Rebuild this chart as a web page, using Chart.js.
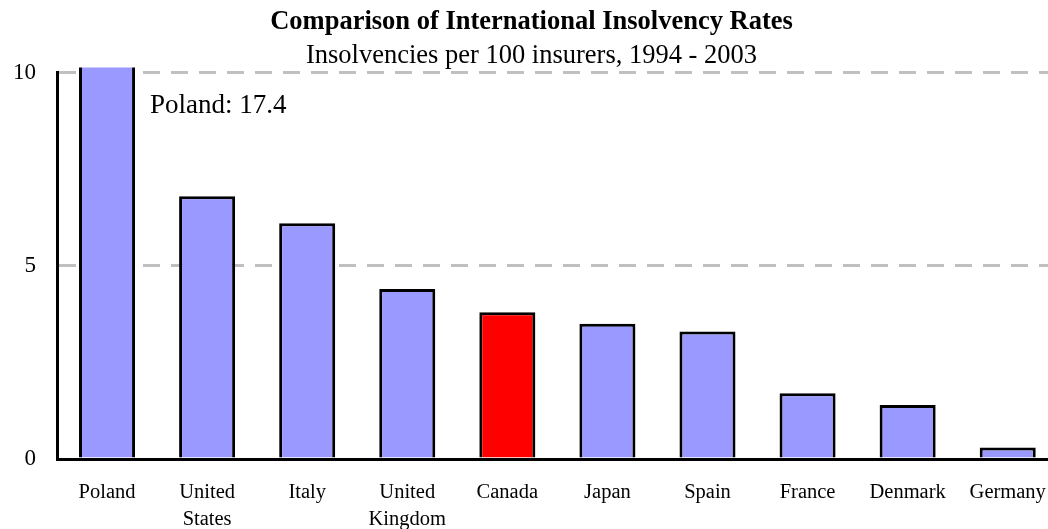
<!DOCTYPE html>
<html>
<head>
<meta charset="utf-8">
<script src="https://cdn.jsdelivr.net/npm/chart.js@4"></script>
<style>
  html, body { margin: 0; padding: 0; overflow: hidden; background: #fff; }
</style>
</head>
<body>
<canvas id="myChart" width="1066" height="529"></canvas>
<script>
let countries = ['Poland', ['United', 'States'], 'Italy', ['United', 'Kingdom'], 'Canada', 'Japan', 'Spain', 'France', 'Denmark', 'Germany'];
let rates = [17.4, 6.8, 6.1, 4.4, 3.8, 3.5, 3.3, 1.7, 1.4, 0.3];
let yTicks = [0, 5, 10];
let highlight = 'Canada';

let serif = "'Liberation Serif', 'Times New Roman', serif";

let barColors = countries.map(c => c === highlight ? '#FF0000' : '#9999FF');

// label for the bar that runs off the top of the scale
let overflowLabel = {
  id: 'overflowLabel',
  afterDatasetsDraw(chart) {
    let ctx = chart.ctx;
    let x = chart.scales.x;
    let y = chart.scales.y;
    let top = y.max;
    rates.forEach((v, i) => {
      if (v <= top) return;
      let name = Array.isArray(countries[i]) ? countries[i].join(' ') : countries[i];
      ctx.save();
      ctx.font = '27px ' + serif;
      ctx.fillStyle = '#000';
      ctx.textBaseline = 'middle';
      ctx.textAlign = 'left';
      ctx.fillText(name + ': ' + v, x.getPixelForValue(i) + 43, y.getPixelForValue(top * 0.915));
      ctx.restore();
    });
  }
};

let chart1 = new Chart(document.getElementById('myChart').getContext('2d'), {
  type: 'bar',
  data: {
    labels: countries,
    datasets: [{
      data: rates,
      backgroundColor: barColors,
      borderColor: '#000',
      borderWidth: 3,
      barPercentage: 0.56,
      categoryPercentage: 1,
      clip: { left: 0, top: 5, right: 0, bottom: 0 }
    }]
  },
  options: {
    responsive: false,
    animation: false,
    layout: { padding: { right: 3, top: 0, bottom: 0, left: 0 } },
    plugins: {
      legend: { display: false },
      tooltip: { enabled: false },
      title: {
        display: true,
        text: 'Comparison of International Insolvency Rates',
        color: '#000',
        font: { family: serif, size: 26.5, weight: 'bold', lineHeight: 1.2 },
        padding: { top: 6, bottom: 0 }
      },
      subtitle: {
        display: true,
        text: 'Insolvencies per 100 insurers, 1994 - 2003',
        color: '#000',
        font: { family: serif, size: 26.5, lineHeight: 1.2 },
        padding: { top: 2, bottom: 1 }
      }
    },
    scales: {
      x: {
        grid: { display: false, drawTicks: false },
        border: { display: true, color: '#000', width: 3 },
        ticks: {
          color: '#000',
          font: { family: serif, size: 20.5, lineHeight: 1.32 },
          padding: 20,
          maxRotation: 0,
          autoSkip: false
        },
        afterFit(scale) { scale.height = 70; }
      },
      y: {
        min: 0,
        max: 10,
        afterBuildTicks(scale) { scale.ticks = yTicks.map(v => ({ value: v })); },
        grid: {
          drawTicks: false,
          color: ctx => ctx.tick && ctx.tick.value === 0 ? 'rgba(0,0,0,0)' : '#C0C0C0',
          lineWidth: 3
        },
        border: { display: true, color: '#000', width: 3, dash: [17, 11], dashOffset: 0 },
        ticks: {
          color: '#000',
          font: { family: serif, size: 23 },
          padding: 21
        },
        afterFit(scale) { scale.width = 57; }
      }
    }
  },
  plugins: [overflowLabel]
});
</script>
</body>
</html>
